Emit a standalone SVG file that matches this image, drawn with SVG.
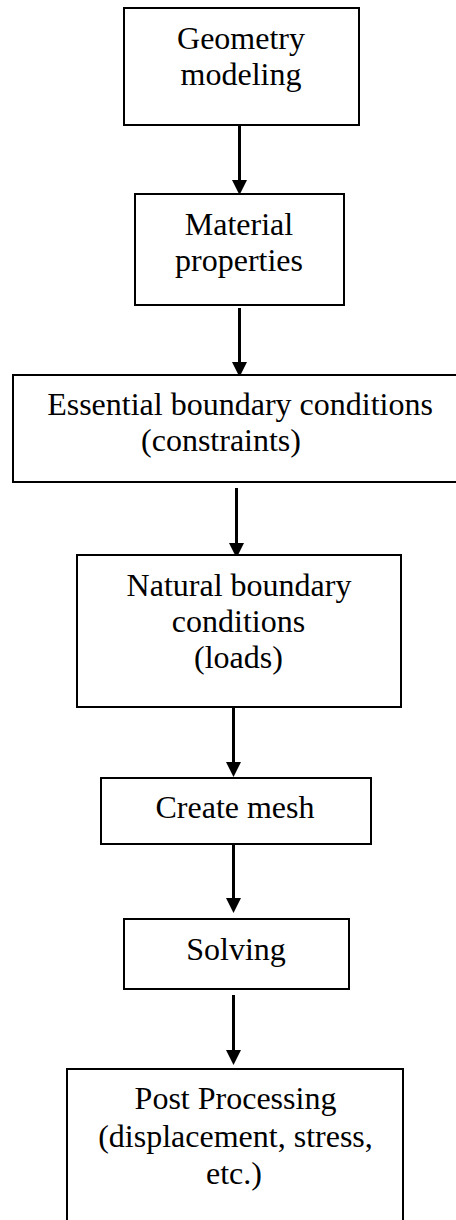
<svg xmlns="http://www.w3.org/2000/svg" width="456" height="1220" viewBox="0 0 456 1220">
<style>
.box{fill:#fff;stroke:#000;stroke-width:2}
.t{font-family:"Liberation Serif","Times New Roman",serif;font-size:32px;fill:#000;text-anchor:middle}
.c{stroke:#000;stroke-width:3;fill:none;marker-end:url(#ah)}
</style>
<defs>
<marker id="ah" markerUnits="userSpaceOnUse" markerWidth="15" markerHeight="15" refX="7" refY="7.5" orient="auto">
<path d="M0,0 L15,7.5 L0,15 Z" fill="#000"/>
</marker>
</defs>
<rect width="456" height="1220" fill="#fff"/>
<g id="connectors">
<line class="c" x1="239.5" y1="125" x2="239.5" y2="187"/>
<line class="c" x1="239.5" y1="308" x2="239.5" y2="369"/>
<line class="c" x1="236.5" y1="488" x2="236.5" y2="550"/>
<line class="c" x1="233.5" y1="707" x2="233.5" y2="769"/>
<line class="c" x1="233.5" y1="844" x2="233.5" y2="905"/>
<line class="c" x1="233.5" y1="995" x2="233.5" y2="1057"/>
</g>
<g id="n1">
<rect class="box" x="124" y="8" width="235" height="117"/>
<text class="t" x="241" y="49">Geometry</text>
<text class="t" x="241" y="85">modeling</text>
</g>
<g id="n2">
<rect class="box" x="135" y="194" width="209" height="111"/>
<text class="t" x="239" y="235">Material</text>
<text class="t" x="239" y="271">properties</text>
</g>
<g id="n3">
<rect class="box" x="13" y="375" width="450" height="107"/>
<text class="t" x="240" y="415">Essential boundary conditions</text>
<text class="t" x="221" y="451">(constraints)</text>
</g>
<g id="n4">
<rect class="box" x="77" y="555" width="324" height="152"/>
<text class="t" x="239" y="596">Natural boundary</text>
<text class="t" x="238.5" y="632">conditions</text>
<text class="t" x="238.5" y="668">(loads)</text>
</g>
<g id="n5">
<rect class="box" x="101" y="778" width="270" height="66"/>
<text class="t" x="235" y="818">Create mesh</text>
</g>
<g id="n6">
<rect class="box" x="124" y="919" width="225" height="70"/>
<text class="t" x="236" y="960">Solving</text>
</g>
<g id="n7">
<rect class="box" x="67" y="1069" width="336" height="170"/>
<text class="t" x="235.5" y="1109">Post Processing</text>
<text class="t" x="235.5" y="1147">(displacement, stress,</text>
<text class="t" x="234" y="1184">etc.)</text>
</g>
</svg>
